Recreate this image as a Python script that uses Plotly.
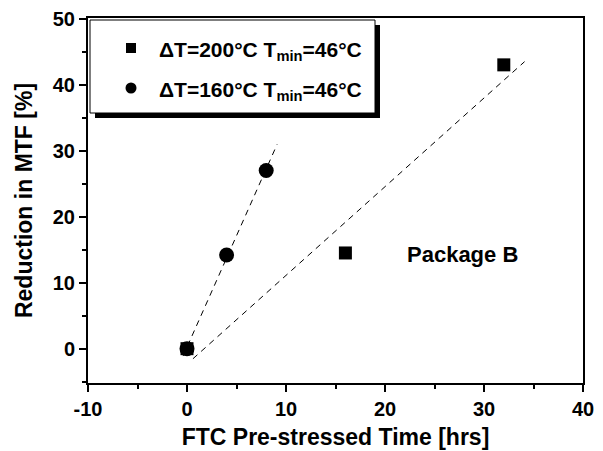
import numpy as np
import plotly.graph_objects as go

# Pre-stress time (hrs) and measured reduction in MTF (%)
time_200 = [0, 16, 32]
mtf_200 = [0, 14.5, 43]
time_160 = [0, 4, 8]
mtf_160 = [0, 14.2, 27]

# Extent of the dashed least-squares fit lines (hrs)
fit_span_200 = [0.6, 34.1]
fit_span_160 = [-0.4, 9.1]

# Axis ticks
x_ticks = [-10, 0, 10, 20, 30, 40]
x_tick_text = ["-10", "0", "10", "20", "30", "40"]
y_ticks = [0, 10, 20, 30, 40, 50]

label_200 = "ΔT=200°C T<sub>min</sub>=46°C"
label_160 = "ΔT=160°C T<sub>min</sub>=46°C"

FONT = "Liberation Sans, Arial, sans-serif"

# plot area size in pixels, used to place the legend box
PW, PH = 495, 365

def fit_line(x, y, span):
    k, b = np.polyfit(x, y, 1)
    xs = np.array(span, dtype=float)
    return xs, k * xs + b

def px_rect(x0, x1, y0, y1):
    """Rectangle given in pixels from the plot's top-left corner, as paper coords."""
    return dict(x0=x0 / PW, x1=x1 / PW, y0=(PH - y1) / PH, y1=(PH - y0) / PH)

fig = go.Figure()

for tx, ty, span in ((time_200, mtf_200, fit_span_200), (time_160, mtf_160, fit_span_160)):
    fx, fy = fit_line(tx, ty, span)
    fig.add_trace(go.Scatter(x=fx, y=fy, mode="lines", showlegend=False,
                             line=dict(color="black", width=1, dash="6px,5px"),
                             hoverinfo="skip"))

fig.add_trace(go.Scatter(x=time_200, y=mtf_200, mode="markers", name=label_200,
                         showlegend=False,
                         marker=dict(symbol="square", size=13, color="black")))
fig.add_trace(go.Scatter(x=time_160, y=mtf_160, mode="markers", name=label_160,
                         showlegend=False,
                         marker=dict(symbol="circle", size=15, color="black")))

fig.add_annotation(x=22.0, y=14.3, xref="x", yref="y", text="Package B",
                   showarrow=False, xanchor="left", yanchor="middle",
                   font=dict(family=FONT, size=22, color="black", weight="bold"))

# legend: white box with thin border and a black drop shadow (right + bottom strips)
legend_shapes = [
    dict(**px_rect(2, 287, 2, 95), fillcolor="white", line=dict(color="black", width=1)),
    dict(**px_rect(287, 292, 7, 100), fillcolor="black", line=dict(width=0)),
    dict(**px_rect(7, 292, 95, 100), fillcolor="black", line=dict(width=0)),
]
for s in legend_shapes:
    fig.add_shape(type="rect", xref="paper", yref="paper", layer="above", **s)

# legend swatches
fig.add_shape(type="rect", xref="paper", yref="paper", layer="above",
              **px_rect(38, 48, 25, 35), fillcolor="black", line=dict(width=0))
fig.add_shape(type="circle", xref="paper", yref="paper", layer="above",
              **px_rect(37.5, 48.5, 64.5, 75.5), fillcolor="black", line=dict(width=0))

# legend labels
for label, ypx in ((label_200, 33), (label_160, 73)):
    fig.add_annotation(x=69 / PW, y=(PH - ypx) / PH, xref="paper", yref="paper",
                       text=label, showarrow=False, xanchor="left", yanchor="middle",
                       font=dict(family=FONT, size=21, color="black", weight="bold"))

axis_common = dict(
    showline=True, linecolor="black", linewidth=2, mirror=True,
    ticks="outside", ticklen=7, tickwidth=2, tickcolor="black",
    showgrid=False, zeroline=False, automargin=False,
    tickfont=dict(family=FONT, size=20, color="black", weight="bold"),
    minor=dict(ticks="outside", ticklen=4, tickwidth=2, tickcolor="black", dtick=5),
)

fig.update_xaxes(range=[-10, 40], tickvals=x_ticks, ticktext=x_tick_text,
                 title=dict(text="FTC Pre-stressed Time [hrs]", standoff=10,
                            font=dict(family=FONT, size=23, color="black", weight="bold")),
                 **axis_common)
fig.update_yaxes(range=[-5.2, 50.1], tickvals=y_ticks,
                 title=dict(text="Reduction in MTF [%]", standoff=14,
                            font=dict(family=FONT, size=23, color="black", weight="bold")),
                 **axis_common)

fig.update_layout(
    width=603, height=451,
    margin=dict(l=88, r=20, t=18, b=68),
    plot_bgcolor="white", paper_bgcolor="white",
    showlegend=False,
)

fig.write_html("out.html")
